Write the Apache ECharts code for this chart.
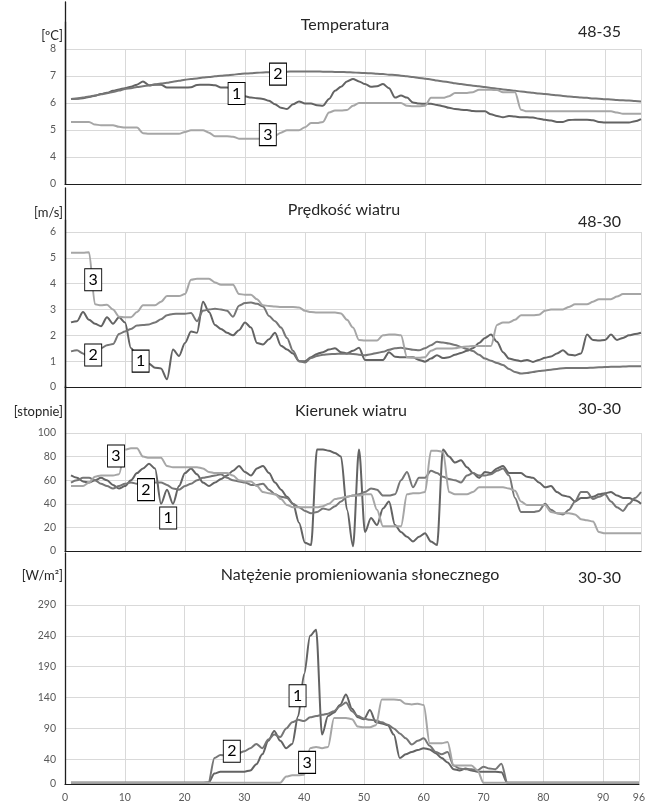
<!DOCTYPE html>
<html><head><meta charset="utf-8">
<script src="https://cdn.jsdelivr.net/npm/echarts@6/dist/echarts.min.js"></script>
<style>html,body{margin:0;padding:0;background:#fff}#c{width:648px;height:805px}</style>
</head><body><div id="c"></div>
<script>
// time index (quarter-hour steps)
const steps = [1,2,3,4,5,6,7,8,9,10,11,12,13,14,15,16,17,18,19,20,21,22,23,24,25,26,27,28,29,30,31,32,33,34,35,36,37,38,39,40,41,42,43,44,45,46,47,48,49,50,51,52,53,54,55,56,57,58,59,60,61,62,63,64,65,66,67,68,69,70,71,72,73,74,75,76,77,78,79,80,81,82,83,84,85,86,87,88,89,90,91,92,93,94,95,96];

// Temperatura [ºC]
const temp1 = [6.15,6.16,6.18,6.22,6.27,6.33,6.38,6.45,6.5,6.55, 6.6,6.68,6.8,6.66,6.68,6.68,6.57,6.57,6.57,6.57, 6.58,6.67,6.68,6.68,6.66,6.57,6.57,6.55,6.4,6.25, 6.2,6.18,6.15,6.08,5.95,5.82,5.78,5.95,6.06,5.98, 5.98,5.92,5.9,6.15,6.45,6.6,6.8,6.89,6.8,6.7, 6.6,6.62,6.7,6.55,6.2,6.28,6.2,6.02,5.98,5.97, 5.97,5.93,5.88,5.82,5.78,5.75,5.74,5.7,5.69,5.69, 5.58,5.52,5.47,5.52,5.5,5.47,5.47,5.46,5.42,5.38, 5.35,5.3,5.3,5.37,5.38,5.38,5.38,5.36,5.3,5.28, 5.28,5.28,5.28,5.28,5.32,5.4];
const temp2 = [6.15,6.17,6.2,6.24,6.28,6.32,6.36,6.41,6.46,6.52, 6.55,6.59,6.62,6.65,6.69,6.72,6.75,6.79,6.82,6.86, 6.89,6.91,6.94,6.96,6.99,7.01,7.03,7.05,7.07,7.09, 7.1,7.12,7.13,7.14,7.15,7.16,7.16,7.17,7.17,7.17, 7.17,7.17,7.16,7.16,7.15,7.15,7.14,7.13,7.12,7.11, 7.1,7.08,7.07,7.05,7.04,7.01,6.99,6.96,6.93,6.9, 6.87,6.83,6.8,6.77,6.73,6.7,6.67,6.64,6.62,6.59, 6.56,6.53,6.5,6.48,6.45,6.43,6.4,6.38,6.35,6.33, 6.31,6.29,6.26,6.24,6.22,6.2,6.19,6.17,6.16,6.14, 6.13,6.11,6.1,6.09,6.07,6.06];
const temp3 = [5.3,5.3,5.3,5.3,5.2,5.18,5.18,5.18,5.12,5.09, 5.09,5.09,4.88,4.86,4.86,4.86,4.86,4.86,4.86,4.93, 4.99,4.99,4.99,4.9,4.77,4.77,4.77,4.75,4.68,4.68, 4.68,4.68,4.68,4.7,4.78,4.9,4.99,4.99,4.99,5.1, 5.26,5.26,5.3,5.65,5.72,5.72,5.74,5.9,6.0,6.0, 6.0,6.0,6.0,6.0,6.0,6.0,5.9,5.88,5.88,5.9, 6.19,6.19,6.19,6.25,6.37,6.37,6.37,6.4,6.49,6.49, 6.49,6.48,6.4,6.4,6.4,5.75,5.69,5.69,5.69,5.69, 5.69,5.69,5.69,5.69,5.69,5.69,5.69,5.69,5.69,5.69, 5.69,5.65,5.6,5.6,5.6,5.6];

// Prędkość wiatru [m/s]
const wind1 = [2.5,2.55,2.9,2.6,2.45,2.35,2.7,2.45,2.7,2.5, 1.5,1.2,1.0,0.9,0.75,0.72,0.3,1.45,1.2,1.7, 2.15,2.1,3.3,2.9,2.4,2.25,2.1,2.0,2.2,2.5, 2.3,1.7,1.65,1.85,2.1,1.6,1.45,1.3,1.0,1.0, 1.15,1.28,1.35,1.45,1.5,1.35,1.3,1.4,1.52,1.05, 1.05,1.05,1.05,1.35,1.17,1.15,1.15,1.15,1.05,0.98, 1.1,1.23,1.12,1.15,1.25,1.32,1.4,1.5,1.7,1.9, 2.03,1.75,1.35,1.1,1.05,1.0,1.05,0.97,1.05,1.13, 1.18,1.3,1.42,1.25,1.22,1.3,2.03,1.82,1.8,1.82, 2.03,1.82,1.9,2.0,2.05,2.1];
const wind2 = [1.38,1.42,1.3,1.1,1.2,1.5,1.62,1.66,2.05,2.15, 2.25,2.38,2.4,2.42,2.5,2.62,2.78,2.83,2.84,2.84, 2.86,2.55,2.95,3.0,3.03,3.0,2.95,2.72,3.15,3.25, 3.27,3.22,3.12,2.75,2.55,2.3,1.9,1.4,1.0,0.95, 1.12,1.2,1.25,1.27,1.28,1.29,1.29,1.28,1.25,1.23, 1.27,1.32,1.36,1.44,1.5,1.52,1.48,1.44,1.42,1.5, 1.62,1.75,1.72,1.68,1.63,1.55,1.47,1.39,1.25,1.1, 1.02,0.93,0.85,0.7,0.58,0.52,0.54,0.58,0.62,0.64, 0.67,0.7,0.73,0.74,0.74,0.74,0.74,0.75,0.76,0.77, 0.78,0.78,0.79,0.8,0.8,0.8];
const wind3 = [5.2,5.2,5.2,5.22,3.2,3.16,3.18,3.0,2.72,2.7, 2.7,2.9,3.16,3.16,3.16,3.3,3.52,3.52,3.52,3.6, 4.15,4.19,4.19,4.19,4.05,3.96,3.96,3.96,3.6,3.57, 3.57,3.4,3.16,3.14,3.12,3.1,3.1,3.1,3.08,2.95, 2.9,2.88,2.88,2.88,2.88,2.85,2.6,2.3,1.82,1.8, 1.8,1.8,2.0,2.03,2.03,2.0,1.15,1.13,1.13,1.15, 1.4,1.49,1.49,1.49,1.5,1.54,1.57,1.59,1.59,1.59, 1.59,2.4,2.5,2.5,2.6,2.78,2.78,2.78,2.8,2.95, 3.0,3.0,3.0,3.1,3.2,3.2,3.2,3.3,3.4,3.4, 3.4,3.5,3.6,3.6,3.6,3.6];

// Kierunek wiatru [stopnie]
const dir1 = [64,62,59,58,60,62,60,56,53,55, 60,66,70,74,70,40,52,40,55,66, 70,65,58,55,58,61,64,68,72,67, 64,70,72,66,58,52,46,40,24,7, 5,86,86,85,83,80,35,4,86,16, 28,22,36,42,22,16,12,8,12,15, 8,5,86,80,75,77,71,66,62,67, 66,70,72,66,66,66,63,62,58,54, 55,50,47,46,42,45,45,46,48,49, 50,47,45,45,43,40];
const dir2 = [58,60,62,62,60,57,55,53,55,57, 58,57,57,58,58,58,56,53,52,55, 57,60,62,63,64,65,62,60,59,58, 56,56,57,52,48,46,45,40,37,34, 32,33,36,35,38,42,46,47,48,50, 53,52,47,47,48,60,67,54,62,62, 68,66,63,61,60,58,64,66,64,64, 65,68,70,64,45,33,33,33,34,40, 35,32,31,35,42,50,50,44,46,48, 42,37,34,40,45,50];
const dir3 = [55,55,55,58,63,64,64,64,65,86, 87,87,80,79,79,79,72,71,71,71, 71,71,70,67,66,66,66,64,60,59, 59,55,50,49,48,44,39,37,37,37, 37,37,38,40,44,45,46,47,47,48, 48,35,21,21,21,21,48,49,49,50, 85,85,84,50,48,48,48,50,54,54, 54,54,54,53,51,42,39,39,39,39, 33,32,32,32,31,27,26,25,16,15, 15,15,15,15,15,15];

// Natężenie promieniowania słonecznego [W/m²]
const sun1 = [2,2,2,2,2,2,2,2,2,2, 2,2,2,2,2,2,2,2,2,2, 2,2,2,2,17,20,20,20,20,20, 22,32,48,70,86,70,58,65,110,178, 240,250,80,110,116,128,145,122,108,105, 120,100,98,95,80,42,48,52,55,58, 56,50,42,35,24,22,25,22,20,20, 20,20,19,2,2,2,2,2,2,2, 2,2,2,2,2,2,2,2,2,2, 2,2,2,2,2,2];
const sun2 = [2,2,2,2,2,2,2,2,2,2, 2,2,2,2,2,2,2,2,2,2, 2,2,2,3,42,47,46,48,50,53, 58,65,58,72,80,76,90,100,104,102, 108,110,112,114,118,126,132,118,110,106, 104,103,100,96,90,82,74,64,70,74, 62,52,48,52,30,25,24,24,22,28, 25,24,33,2,2,2,2,2,2,2, 2,2,2,2,2,2,2,2,2,2, 2,2,2,2,2,2];
const sun3 = [2,2,2,2,2,2,2,2,2,2, 2,2,2,2,2,2,2,2,2,2, 2,2,2,2,2,2,2,2,2,2, 2,2,2,2,2,2,12,14,14,15, 58,60,58,60,107,107,107,105,93,92, 92,95,137,137,137,136,130,129,130,128, 66,66,66,68,30,30,30,30,22,2, 2,2,2,2,2,2,2,2,2,2, 2,2,2,2,2,2,2,2,2,2, 2,2,2,2,2,2];

// axis tick values
const xTicks = [0,10,20,30,40,50,60,70,80,90,96];
const tempTicks = [3,4,5,6,7,8];        // lowest tick shown as "0" (broken axis)
const windTicks = [0,1,2,3,4,5,6];
const dirTicks = [0,20,40,60,80,100];
const sunTicks = [0,40,90,140,190,240,290];

// texts
const titles = ['Temperatura','Prędkość wiatru','Kierunek wiatru','Natężenie promieniowania słonecznego'];
const units = ['[ºC]','[m/s]','[stopnie]','[W/m²]'];
const codes = ['48-35','48-30','30-30','30-30'];
const seriesNames = ['1','2','3'];

// label box anchors (data coordinates) per panel, for series 1,2,3
const tempLabels = [[28.6,6.35],[35.5,7.07],[33.8,4.83]];
const windLabels = [[12.6,1.0],[4.7,1.24],[4.7,4.15]];
const dirLabels = [[17.2,28],[13.5,52],[8.5,80.5]];
const sunLabels = [[38.9,143],[27.9,53],[40.5,35]];

const FONT = 'Lato, "Liberation Sans", sans-serif';
const COLORS = ['#636363','#767676','#a6a6a6'];
const LEFT = 65, WIDTH = 576;

const panels = [
  {data:[temp1,temp2,temp3], ticks:tempTicks, labels:tempLabels, top:49, height:135, lineTop:22, rightTop:2,
   fmt: v => (v === 3 ? '0' : String(v)), title:[345,25], unit:36, code:32},
  {data:[wind1,wind2,wind3], ticks:windTicks, labels:windLabels, top:232, height:155, lineTop:188, rightTop:220,
   fmt: v => String(v), title:[344,210], unit:213, code:222},
  {data:[dir1,dir2,dir3], ticks:dirTicks, labels:dirLabels, top:433, height:118, lineTop:388, rightTop:386,
   fmt: v => String(v), title:[351,411], unit:412, code:409},
  {data:[sun1,sun2,sun3], ticks:sunTicks, labels:sunLabels, top:605, height:179, lineTop:553, rightTop:null,
   fmt: v => String(v), title:[360,575], unit:576, code:578}
];

const grid = [], xAxis = [], yAxis = [], series = [], graphic = [];

panels.forEach((p, i) => {
  const gi = grid.length;
  grid.push({left: LEFT, width: WIDTH, top: p.top, height: p.height});
  const tks = p.ticks;
  xAxis.push({
    gridIndex: gi, type: 'value', min: 0, max: 96, interval: 10,
    axisLine: {show: true, onZero: false, lineStyle: {color: '#1e1e1e', width: 1.2}},
    axisTick: {show: false},
    axisLabel: {show: i === 3, color: '#595959', fontSize: 10.5, fontFamily: FONT, margin: 8,
      formatter: v => String(v)},
    splitLine: {show: true, lineStyle: {color: '#d9d9d9', width: 1}}
  });
  yAxis.push({
    gridIndex: gi, type: 'value', min: tks[0], max: tks[tks.length - 1],
    axisLine: {show: false},
    axisTick: {show: false, customValues: tks},
    axisLabel: {color: '#595959', fontSize: 10.5, fontFamily: FONT, margin: 9,
      customValues: tks, formatter: p.fmt},
    splitLine: {show: true, lineStyle: {color: '#d9d9d9', width: 1}}
  });
  const xi = xAxis.length - 1, yi = yAxis.length - 1;

  p.data.forEach((arr, k) => {
    const lab = p.labels[k];
    series.push({
      type: 'line', name: seriesNames[k], xAxisIndex: xi, yAxisIndex: yi,
      data: steps.map((s, j) => [s, arr[j]]),
      symbol: 'none', smooth: 0.3, smoothMonotone: 'x',
      lineStyle: {color: COLORS[k], width: 2},
      itemStyle: {color: COLORS[k]},
      silent: true, animation: false, z: 2,
      markPoint: {
        silent: true, animation: false,
        symbol: 'rect', symbolSize: [17, 22],
        itemStyle: {color: '#ffffff', borderColor: '#000000', borderWidth: 1},
        label: {show: true, color: '#000', fontSize: 16, fontFamily: FONT, formatter: seriesNames[k]},
        data: [{coord: lab, name: seriesNames[k]}]
      }
    });
  });

  // tall left axis line
  const bottom = p.top + p.height;
  grid.push({left: LEFT, width: WIDTH, top: p.lineTop, height: bottom - p.lineTop});
  xAxis.push({gridIndex: grid.length - 1, type: 'value', show: false, min: 0, max: 1});
  yAxis.push({gridIndex: grid.length - 1, type: 'value', min: 0, max: 1, position: 'left', z: 5,
    axisLine: {show: true, lineStyle: {color: '#1e1e1e', width: 1.3}},
    axisTick: {show: false}, axisLabel: {show: false}, splitLine: {show: false}});
  if (p.rightTop !== null) {
    grid.push({left: LEFT, width: WIDTH, top: p.rightTop, height: bottom - p.rightTop});
    xAxis.push({gridIndex: grid.length - 1, type: 'value', show: false, min: 0, max: 1});
    yAxis.push({gridIndex: grid.length - 1, type: 'value', min: 0, max: 1, position: 'right', z: 5,
      axisLine: {show: true, lineStyle: {color: '#1e1e1e', width: 1.3}},
      axisTick: {show: false}, axisLabel: {show: false}, splitLine: {show: false}});
  }

  graphic.push({type: 'text', silent: true, style: {text: titles[i], x: p.title[0], y: p.title[1],
    align: 'center', verticalAlign: 'middle', font: '16px ' + FONT, fill: '#262626'}});
  graphic.push({type: 'text', silent: true, style: {text: units[i], x: 63, y: p.unit,
    align: 'right', verticalAlign: 'middle', font: '13px ' + FONT, fill: '#262626'}});
  graphic.push({type: 'text', silent: true, style: {text: codes[i], x: 621, y: p.code,
    align: 'right', verticalAlign: 'middle', font: '16px ' + FONT, fill: '#262626'}});
});

const chart = echarts.init(document.getElementById('c'), null, {renderer: 'canvas'});
chart.setOption({
  animation: false,
  backgroundColor: '#ffffff',
  grid, xAxis, yAxis, series, graphic
});
</script>
</body></html>
